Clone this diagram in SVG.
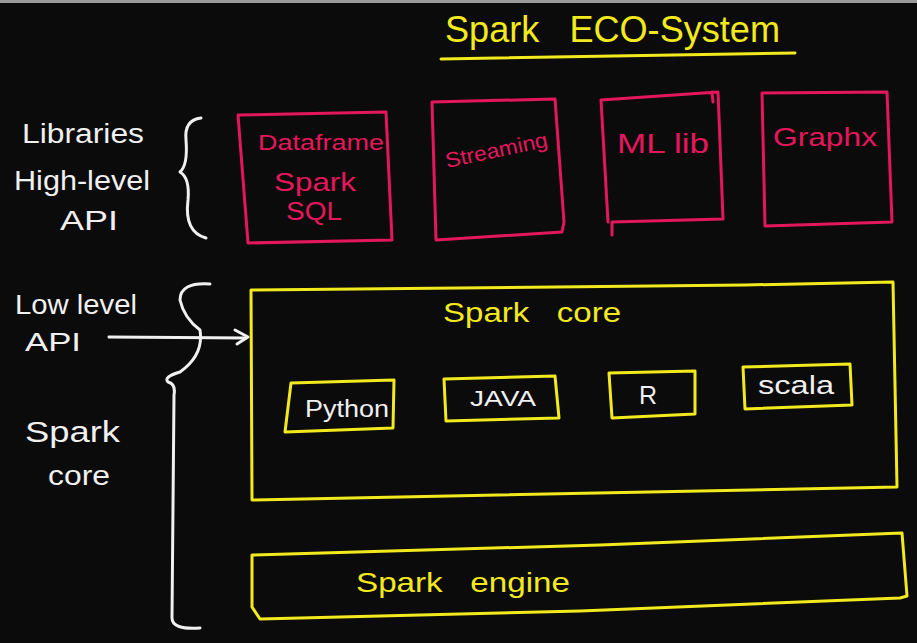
<svg xmlns="http://www.w3.org/2000/svg" width="917" height="643" viewBox="0 0 917 643">
<defs>
<style>
.y{fill:none;stroke:#f3ea1e;stroke-width:3;stroke-linecap:round;stroke-linejoin:round}
.p{fill:none;stroke:#e5175c;stroke-width:3;stroke-linecap:round;stroke-linejoin:round}
.w{fill:none;stroke:#f0f0f0;stroke-width:3;stroke-linecap:round;stroke-linejoin:round}
text{font-family:"Liberation Sans","DejaVu Sans",sans-serif;white-space:pre}
.ty{fill:#f3ea1e}
.tp{fill:#e5175c}
.tw{fill:#f0f0f0}
</style>
</defs>
<rect width="917" height="643" fill="#0b0b0b"/>
<rect width="917" height="3" fill="#9a9a9a"/>

<g id="title">
<text class="ty" x="445" y="42" font-size="36" textLength="335" lengthAdjust="spacingAndGlyphs" xml:space="preserve">Spark   ECO-System</text>
<path class="y" d="M441 59 Q600 56 795 53"/>
</g>

<g id="label-libraries">
<text class="tw" x="22" y="143" font-size="27" textLength="122" lengthAdjust="spacingAndGlyphs">Libraries</text>
<text class="tw" x="14" y="190" font-size="27" textLength="136" lengthAdjust="spacingAndGlyphs">High-level</text>
<text class="tw" x="60" y="230" font-size="27" textLength="58" lengthAdjust="spacingAndGlyphs">API</text>
</g>

<g id="label-lowlevel">
<text class="tw" x="15" y="314" font-size="27" textLength="122" lengthAdjust="spacingAndGlyphs">Low level</text>
<text class="tw" x="25" y="351" font-size="25" textLength="56" lengthAdjust="spacingAndGlyphs">API</text>
</g>

<g id="label-sparkcore">
<text class="tw" x="25" y="442" font-size="30" textLength="95" lengthAdjust="spacingAndGlyphs">Spark</text>
<text class="tw" x="48" y="485" font-size="28" textLength="62" lengthAdjust="spacingAndGlyphs">core</text>
</g>

<g id="braces">
<path class="w" d="M201 118 Q184 120 186 140 Q188 165 180 172 Q190 178 188 200 Q184 232 206 238"/>
<path class="w" d="M210 284 Q180 282 180 300 Q184 318 200 330 Q204 355 180 372 Q163 377 168 382 Q176 384 174 395 L172 618 Q172 630 200 628"/>
</g>

<g id="box-dataframe">
<path class="p" d="M238 115 L386 112 L392 240 L248 243 Z"/>
<text class="tp" x="258" y="150" font-size="22" textLength="126" lengthAdjust="spacingAndGlyphs">Dataframe</text>
<text class="tp" x="274" y="191" font-size="26" textLength="82" lengthAdjust="spacingAndGlyphs">Spark</text>
<text class="tp" x="286" y="220" font-size="26" textLength="56" lengthAdjust="spacingAndGlyphs">SQL</text>
</g>

<g id="box-streaming">
<path class="p" d="M432 102 L555 99 L564 222 L562 232 L436 240 Z"/>
<text class="tp" x="447" y="168" font-size="21" textLength="104" lengthAdjust="spacingAndGlyphs" transform="rotate(-12 447 168)">Streaming</text>
</g>

<g id="box-mllib">
<path class="p" d="M601 100 L718 92 L723 219 L612 222 L612 235 M601 100 L608 222 M712 92 L713 102"/>
<text class="tp" x="617" y="153" font-size="27" textLength="92" lengthAdjust="spacingAndGlyphs">ML lib</text>
</g>

<g id="box-graphx">
<path class="p" d="M762 93 L887 92 L892 222 L765 226 Z"/>
<text class="tp" x="773" y="146" font-size="25" textLength="104" lengthAdjust="spacingAndGlyphs">Graphx</text>
</g>

<g id="box-sparkcore">
<path class="y" d="M251 290 L745 285 L893 282 L897 487 L252 500 Z"/>
<text class="ty" x="443" y="322" font-size="27" textLength="178" lengthAdjust="spacingAndGlyphs" xml:space="preserve">Spark   core</text>
</g>

<g id="box-python">
<path class="y" d="M291 383 L394 380 L393 428 L285 432 Z"/>
<text class="tw" x="305" y="417" font-size="23" textLength="84" lengthAdjust="spacingAndGlyphs">Python</text>
</g>

<g id="box-java">
<path class="y" d="M444 379 L555 376 L559 418 L446 421 Z"/>
<text class="tw" x="470" y="406" font-size="22" textLength="66" lengthAdjust="spacingAndGlyphs">JAVA</text>
</g>

<g id="box-r">
<path class="y" d="M609 373 L695 371 L695 414 L612 418 Z"/>
<text class="tw" x="648" y="404" font-size="25" text-anchor="middle">R</text>
</g>

<g id="box-scala">
<path class="y" d="M743 367 L850 364 L852 405 L745 409 Z"/>
<text class="tw" x="758" y="394" font-size="25" textLength="76" lengthAdjust="spacingAndGlyphs">scala</text>
</g>

<g id="box-engine">
<path class="y" d="M252 555 L600 545 L902 533 L907 596 L900 598 L580 611 L260 619 L252 607 Z"/>
<text class="ty" x="356" y="592" font-size="28" textLength="214" lengthAdjust="spacingAndGlyphs" xml:space="preserve">Spark   engine</text>
</g>

<g id="connectors">
<path class="w" d="M109 337 L246 338"/>
<path class="w" d="M235 330 L248 337 L237 344"/>
</g>
</svg>
